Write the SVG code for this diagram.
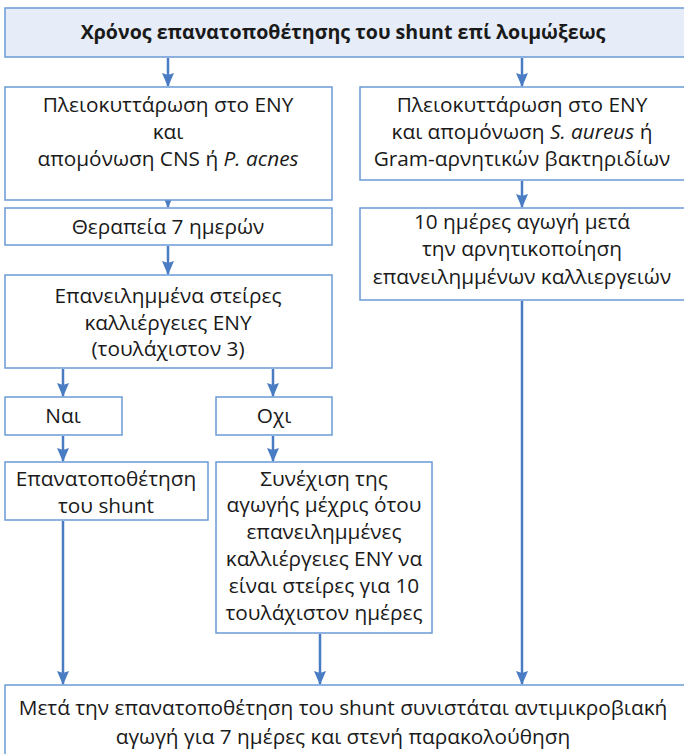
<svg xmlns="http://www.w3.org/2000/svg" width="684" height="754" viewBox="0 0 684 754">
  <defs>
    <marker id="arrow" markerWidth="14" markerHeight="14" refX="13" refY="7" orient="auto" markerUnits="userSpaceOnUse" viewBox="0 0 14 14">
      <path d="M0,1 L14,7 L0,13 L2,7 Z" fill="#4a7cc4"/>
    </marker>
    <style>
      .box { fill: #ffffff; stroke: #6b9ad6; stroke-width: 1.5; }
      .head { fill: #e6edf8; stroke: #6b9ad6; stroke-width: 1.5; }
      .t { font-family: "Open Sans", "Liberation Sans", sans-serif; font-size: 20.8px; fill: #1a1a1a; text-anchor: middle; }
      .title { font-family: "Open Sans", "Liberation Sans", sans-serif; font-size: 19.6px; font-weight: bold; fill: #1a1a1a; text-anchor: middle; }
      .link { stroke: #4a7cc4; stroke-width: 2.5; fill: none; marker-end: url(#arrow); }
    </style>
  </defs>
  <rect width="684" height="754" fill="#ffffff"/>

  <g id="connectors">
    <line class="link" x1="168" y1="58" x2="168" y2="86"/>
    <line class="link" x1="522" y1="58" x2="522" y2="86"/>
    <line class="link" x1="168" y1="200" x2="168" y2="207"/>
    <line class="link" x1="522" y1="181" x2="522" y2="207"/>
    <line class="link" x1="168" y1="246" x2="168" y2="274"/>
    <line class="link" x1="63" y1="369" x2="63" y2="396"/>
    <line class="link" x1="273" y1="369" x2="273" y2="396"/>
    <line class="link" x1="63" y1="436" x2="63" y2="461"/>
    <line class="link" x1="273" y1="436" x2="273" y2="461"/>
    <line class="link" x1="63" y1="521" x2="63" y2="684"/>
    <line class="link" x1="320" y1="634" x2="320" y2="684"/>
    <line class="link" x1="522" y1="301" x2="522" y2="684"/>
  </g>

  <g id="title">
    <rect class="head" x="5" y="8" width="680" height="49"/>
    <text class="title" x="343" y="39">Χρόνος επανατοποθέτησης του shunt επί λοιμώξεως</text>
  </g>

  <g id="cns">
    <rect class="box" x="5" y="87" width="327" height="113"/>
    <text class="t" x="168" y="112">Πλειοκυττάρωση στο ΕΝΥ</text>
    <text class="t" x="168" y="139">και</text>
    <text class="t" x="168" y="166">απομόνωση CNS ή <tspan font-style="italic">P. acnes</tspan></text>
  </g>

  <g id="aureus">
    <rect class="box" x="360" y="87" width="325" height="93"/>
    <text class="t" x="522" y="112">Πλειοκυττάρωση στο ΕΝΥ</text>
    <text class="t" x="522" y="139">και απομόνωση <tspan font-style="italic">S. aureus</tspan> ή</text>
    <text class="t" x="522" y="166">Gram-αρνητικών βακτηριδίων</text>
  </g>

  <g id="therapy7">
    <rect class="box" x="5" y="208" width="327" height="37"/>
    <text class="t" x="168" y="234">Θεραπεία 7 ημερών</text>
  </g>

  <g id="therapy10">
    <rect class="box" x="360" y="208" width="325" height="92"/>
    <text class="t" x="522" y="229">10 ημέρες αγωγή μετά</text>
    <text class="t" x="522" y="256">την αρνητικοποίηση</text>
    <text class="t" x="522" y="284">επανειλημμένων καλλιεργειών</text>
  </g>

  <g id="sterile">
    <rect class="box" x="5" y="275" width="327" height="93"/>
    <text class="t" x="168" y="303">Επανειλημμένα στείρες</text>
    <text class="t" x="168" y="330">καλλιέργειες ΕΝΥ</text>
    <text class="t" x="168" y="356">(τουλάχιστον 3)</text>
  </g>

  <g id="yes">
    <rect class="box" x="5" y="397" width="117" height="38"/>
    <text class="t" x="63" y="423">Ναι</text>
  </g>

  <g id="no">
    <rect class="box" x="216" y="397" width="116" height="38"/>
    <text class="t" x="274" y="423">Οχι</text>
  </g>

  <g id="reinsert">
    <rect class="box" x="5" y="462" width="203" height="58"/>
    <text class="t" x="106" y="486">Επανατοποθέτηση</text>
    <text class="t" x="106" y="513">του shunt</text>
  </g>

  <g id="continue">
    <rect class="box" x="216" y="462" width="216" height="171"/>
    <text class="t" x="324" y="486">Συνέχιση της</text>
    <text class="t" x="324" y="512">αγωγής μέχρις ότου</text>
    <text class="t" x="324" y="539">επανειλημμένες</text>
    <text class="t" x="324" y="566">καλλιέργειες ΕΝΥ να</text>
    <text class="t" x="324" y="593">είναι στείρες για 10</text>
    <text class="t" x="324" y="620">τουλάχιστον ημέρες</text>
  </g>

  <g id="followup">
    <rect class="box" x="5" y="685" width="680" height="75"/>
    <text class="t" x="343" y="715">Μετά την επανατοποθέτηση του shunt συνιστάται αντιμικροβιακή</text>
    <text class="t" x="343" y="744">αγωγή για 7 ημέρες και στενή παρακολούθηση</text>
  </g>
</svg>
